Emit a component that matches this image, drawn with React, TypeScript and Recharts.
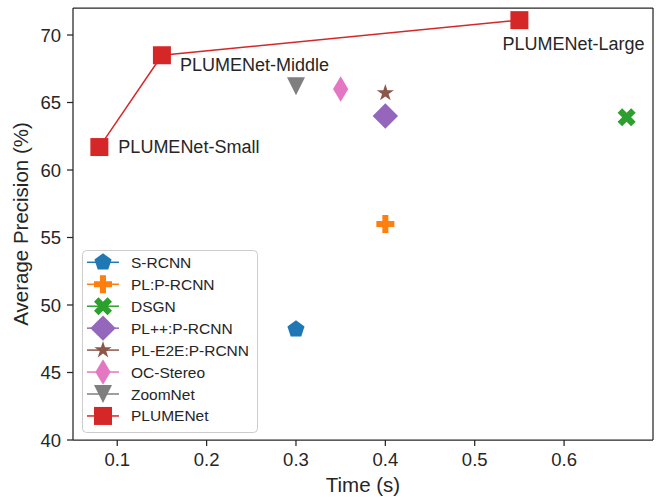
import { ScatterChart, Scatter, XAxis, YAxis, ReferenceLine } from "recharts";

document.body.style.margin = "0";

// other methods (single points)
const methodNames = ["S-RCNN", "PL:P-RCNN", "DSGN", "PL++:P-RCNN", "PL-E2E:P-RCNN", "OC-Stereo", "ZoomNet"];
const methodTime = [0.3, 0.4, 0.67, 0.4, 0.4, 0.35, 0.3];
const methodAP = [48.2, 56.0, 63.9, 64.0, 65.7, 66.0, 66.2];

// PLUMENet variants (connected)
const plumeNames = ["PLUMENet-Small", "PLUMENet-Middle", "PLUMENet-Large"];
const plumeTime = [0.08, 0.15, 0.55];
const plumeAP = [61.7, 68.5, 71.1];

const xTicks = [0.1, 0.2, 0.3, 0.4, 0.5, 0.6];
const yTicks = [40, 45, 50, 55, 60, 65, 70];

const methodColors = ["#1f77b4", "#ff7f0e", "#2ca02c", "#9467bd", "#8c564b", "#e377c2", "#7f7f7f"];
const methodMarkers = ["pentagon", "plus", "x", "diamond", "star", "thin", "tridown"];
const PLUME_COLOR = "#d62728";

// where each PLUMENet annotation sits relative to its marker
const labelOffset: Record<string, [number, number, "start" | "end"]> = {
  "PLUMENet-Small": [19, 0, "start"],
  "PLUMENet-Middle": [18, 10, "start"],
  "PLUMENet-Large": [-17, 23.5, "start"],
};

const FONT = "'Liberation Sans', Arial, sans-serif";
const INK = "#262626";

const pts = (arr: number[][]) => arr.map((p) => p.join(",")).join(" ");

function Marker({ kind, cx, cy, color }: { kind: string; cx: number; cy: number; color: string }) {
  const h = 9;
  switch (kind) {
    case "square":
      return <rect x={cx - h} y={cy - h} width={2 * h} height={2 * h} fill={color} />;
    case "pentagon": {
      const p = [0, 1, 2, 3, 4].map((k) => {
        const a = ((-90 + k * 72) * Math.PI) / 180;
        return [cx + h * Math.cos(a), cy + h * Math.sin(a)];
      });
      return <polygon points={pts(p)} fill={color} />;
    }
    case "star": {
      const p = Array.from({ length: 10 }, (_, k) => {
        const r = k % 2 === 0 ? h : h * 0.381966;
        const a = ((-90 + k * 36) * Math.PI) / 180;
        return [cx + r * Math.cos(a), cy + r * Math.sin(a)];
      });
      return <polygon points={pts(p)} fill={color} />;
    }
    case "plus": {
      const u = 3;
      const v = [[-1, -3], [1, -3], [1, -1], [3, -1], [3, 1], [1, 1], [1, 3], [-1, 3], [-1, 1], [-3, 1], [-3, -1], [-1, -1]];
      return <polygon points={pts(v.map(([a, b]) => [cx + a * u, cy + b * u]))} fill={color} />;
    }
    case "x": {
      const u = 4.5;
      const v = [[-1, -2], [0, -1], [1, -2], [2, -1], [1, 0], [2, 1], [1, 2], [0, 1], [-1, 2], [-2, 1], [-1, 0], [-2, -1]];
      return <polygon points={pts(v.map(([a, b]) => [cx + a * u, cy + b * u]))} fill={color} />;
    }
    case "diamond": {
      const d = 12.7;
      return <polygon points={pts([[cx, cy - d], [cx + d, cy], [cx, cy + d], [cx - d, cy]])} fill={color} />;
    }
    case "thin": {
      const d = 12.7;
      const w = 7.6;
      return <polygon points={pts([[cx, cy - d], [cx + w, cy], [cx, cy + d], [cx - w, cy]])} fill={color} />;
    }
    case "tridown":
      return <polygon points={pts([[cx - h, cy - h], [cx + h, cy - h], [cx, cy + h]])} fill={color} />;
    default:
      return null;
  }
}

const plumeData = plumeNames.map((name, i) => ({ name, t: plumeTime[i], ap: plumeAP[i] }));

const legendItems = [
  ...methodNames.map((name, i) => ({ name, color: methodColors[i], kind: methodMarkers[i] })),
  { name: "PLUMENet", color: PLUME_COLOR, kind: "square" },
];

function YTitle({ viewBox }: any) {
  const cx = viewBox.x + 20;
  const cy = viewBox.y + viewBox.height / 2;
  return (
    <text x={cx} y={cy} transform={`rotate(-90 ${cx} ${cy})`} textAnchor="middle" dominantBaseline="central"
      fontSize={20.5} fill={INK} fontFamily={FONT}>
      Average Precision (%)
    </text>
  );
}

export default function App() {
  const tickStyle = { fontSize: 18.5, fill: INK, fontFamily: FONT };
  const axisStroke = { stroke: INK, strokeWidth: 1.25 };
  return (
    <div style={{ position: "relative", width: 656, height: 498, background: "#fff" }}>
      <ScatterChart width={656} height={498} margin={{ top: 8, right: 3, bottom: 0, left: 0 }}>
        <XAxis
          type="number"
          dataKey="t"
          domain={[0.0505, 0.6995]}
          allowDataOverflow
          ticks={xTicks}
          tickFormatter={(v: number) => v.toFixed(1)}
          height={58}
          tickSize={6}
          tickMargin={7}
          tick={tickStyle}
          axisLine={axisStroke}
          tickLine={axisStroke}
          label={{ value: "Time (s)", position: "insideBottom", offset: 6, fontSize: 20.5, fill: INK, fontFamily: FONT }}
        />
        <YAxis
          type="number"
          dataKey="ap"
          domain={[40, 72]}
          allowDataOverflow
          ticks={yTicks}
          width={73}
          tickSize={6}
          tickMargin={6}
          tick={tickStyle}
          axisLine={axisStroke}
          tickLine={axisStroke}
          label={YTitle}
        />
        <ReferenceLine y={72} stroke={INK} strokeWidth={1.25} />
        <ReferenceLine x={0.6995} stroke={INK} strokeWidth={1.25} />
        {methodNames.map((name, i) => (
          <Scatter
            key={name}
            name={name}
            data={[{ t: methodTime[i], ap: methodAP[i] }]}
            fill={methodColors[i]}
            isAnimationActive={false}
            shape={(p: any) => <Marker kind={methodMarkers[i]} cx={p.cx} cy={p.cy} color={methodColors[i]} />}
          />
        ))}
        <Scatter
          name="PLUMENet"
          data={plumeData}
          fill={PLUME_COLOR}
          line={{ stroke: PLUME_COLOR, strokeWidth: 1.5 }}
          isAnimationActive={false}
          shape={(p: any) => {
            const [dx, dy, anchor] = labelOffset[p.payload.name];
            return (
              <g>
                <Marker kind="square" cx={p.cx} cy={p.cy} color={PLUME_COLOR} />
                <text x={p.cx + dx} y={p.cy + dy} textAnchor={anchor} dominantBaseline="central"
                  fontSize={18} fill={INK} fontFamily={FONT}>
                  {p.payload.name}
                </text>
              </g>
            );
          }}
        />
      </ScatterChart>
      <svg width={656} height={498} style={{ position: "absolute", left: 0, top: 0, pointerEvents: "none" }}>
        <rect x={82.5} y={250.5} width={175} height={182} rx={4} fill="rgba(255,255,255,0.8)" stroke="#cccccc" strokeWidth={1} />
        {legendItems.map((it, i) => {
          const y = 262.3 + i * 21.95;
          return (
            <g key={it.name}>
              <line x1={87} x2={119} y1={y} y2={y} stroke={it.color} strokeWidth={1.5} />
              <Marker kind={it.kind} cx={103} cy={y} color={it.color} />
              <text x={131} y={y} dominantBaseline="central" fontSize={15.5} fill={INK} fontFamily={FONT}>
                {it.name}
              </text>
            </g>
          );
        })}
      </svg>
    </div>
  );
}
